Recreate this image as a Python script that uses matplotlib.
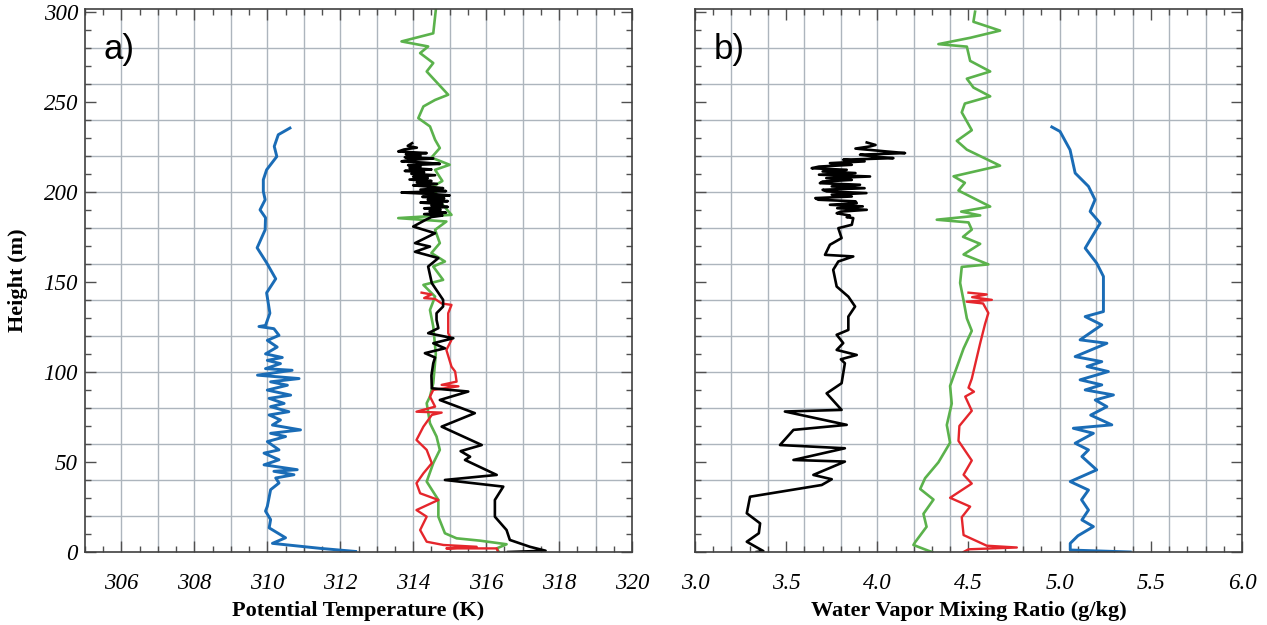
import numpy as np
import matplotlib
matplotlib.use("Agg")
import matplotlib.pyplot as plt
from matplotlib.ticker import MultipleLocator, FixedLocator, FormatStrFormatter

plt.rcParams['font.family'] = ['Liberation Serif', 'DejaVu Serif']
plt.rcParams['font.style'] = 'italic'

# ---------------- Panel a: potential temperature (K) vs height (m) ----------------
theta_blue = [310.62, 310.30, 310.19, 310.26, 309.98, 309.89, 309.89, 309.94, 309.80, 309.95,
              309.94, 309.72, 309.98, 310.23, 309.98, 310.07, 309.95, 309.77, 310.18, 310.32,
              310.00, 310.27, 309.95, 310.41, 310.00, 310.36, 309.95, 310.68, 309.73, 310.87,
              310.09, 310.55, 310.00, 310.64, 310.05, 310.46, 310.09, 310.59, 310.05, 310.36,
              310.14, 310.91, 310.09, 310.50, 310.00, 310.32, 309.91, 310.32, 309.91, 310.82,
              310.18, 310.73, 310.23, 310.32, 310.09, 310.00, 309.95, 310.09, 310.05, 310.50,
              310.14, 311.46, 312.42]
z_theta_blue = [235.4, 231.7, 225.2, 219.6, 212.2, 206.7, 200.2, 195.6, 190.0, 185.6,
                178.9, 168.9, 160.6, 151.7, 143.9, 132.6, 125.8, 125.2, 124.0, 120.3,
                117.5, 113.8, 110.0, 108.0, 106.4, 104.6, 101.8, 100.9, 98.2, 96.3,
                94.5, 92.6, 89.9, 87.1, 85.3, 82.5, 80.7, 77.9, 76.1, 73.3,
                70.5, 67.8, 65.9, 64.1, 61.3, 56.7, 54.9, 51.2, 48.4, 45.7,
                44.8, 42.9, 41.1, 38.3, 34.6, 25.4, 22.7, 18.0, 13.4, 7.9,
                4.8, 2.0, 0.3]

theta_green = [314.62, 314.55, 313.68, 314.41, 314.19, 314.55, 314.37, 314.96, 314.60, 314.28,
               314.14, 314.46, 314.60, 314.73, 314.50, 315.00, 314.60, 314.80, 314.55, 314.69,
               315.05, 313.59, 314.91, 314.60, 314.73, 314.50, 314.87, 314.55, 314.82, 314.28,
               314.60, 314.46, 314.55, 314.62, 314.55, 314.46, 314.37, 314.46, 314.64, 314.73,
               314.55, 314.37, 314.69, 314.69, 314.87, 315.19, 315.83, 316.56, 316.29, 316.35]
z_theta_green = [301.0, 288.0, 283.5, 280.7, 277.0, 271.5, 266.8, 253.9, 251.0, 247.4,
                 240.9, 236.3, 228.9, 224.3, 219.0, 215.0, 212.2, 206.0, 203.0, 195.6,
                 187.2, 185.4, 183.5, 178.9, 171.5, 166.0, 161.3, 158.5, 151.1, 148.3,
                 141.8, 134.4, 125.2, 110.0, 93.7, 86.3, 82.6, 71.5, 64.1, 56.7,
                 49.3, 39.1, 28.9, 19.6, 10.4, 7.6, 6.3, 4.3, 2.0, 0.0]

theta_red = [314.23, 314.50, 314.30, 314.60, 314.78, 315.05, 314.96, 314.96, 315.05, 314.91,
             315.05, 315.15, 315.19, 314.78, 315.24, 314.55, 314.46, 314.60, 314.09, 314.78,
             314.51, 314.28, 314.09, 314.37, 314.51, 314.28, 314.09, 314.19, 314.69, 314.09,
             314.37, 314.19, 314.37, 314.83, 315.74, 314.91, 316.29, 316.33]
z_theta_red = [144.0, 143.0, 141.0, 140.5, 138.0, 137.2, 132.6, 121.5, 117.8, 112.2,
               102.9, 100.2, 94.6, 92.8, 92.0, 90.0, 86.3, 80.7, 77.9, 77.4,
               76.1, 69.6, 62.2, 56.7, 49.3, 43.7, 38.2, 32.6, 28.9, 23.3,
               19.6, 12.2, 5.7, 3.9, 2.9, 2.0, 2.0, 0.0]

theta_black = [313.97, 313.85, 314.10, 313.75, 313.59, 314.37, 313.80, 314.20, 313.77, 314.55,
               313.90, 313.68, 314.30, 314.73, 313.86, 314.20, 313.90, 314.50, 313.77, 314.30,
               313.95, 314.60, 314.00, 314.40, 313.90, 314.50, 314.10, 314.65, 314.00, 314.45,
               314.82, 314.20, 314.90, 313.68, 314.50, 315.00, 314.25, 314.85, 314.40, 314.95,
               314.20, 314.80, 314.50, 314.95, 314.30, 314.75, 314.45, 314.90, 314.30, 314.80,
               314.50, 314.30, 314.00, 314.60, 314.05, 314.46, 314.05, 314.69, 314.41, 314.51,
               314.82, 314.82, 314.64, 314.64, 314.69, 314.41, 315.10, 314.55, 314.87, 314.32,
               314.60, 314.55, 314.50, 314.51, 315.51, 314.73, 315.69, 314.78, 315.88, 315.30,
               315.56, 315.42, 316.29, 314.87, 316.47, 316.24, 316.24, 316.56, 316.65, 317.20,
               317.63, 316.60]
z_theta_black = [227.0, 225.5, 224.5, 223.5, 222.4, 221.5, 220.8, 220.0, 219.2, 218.5,
                 217.7, 216.9, 216.2, 215.5, 214.8, 214.0, 213.2, 212.4, 211.6, 210.8,
                 210.0, 209.2, 208.4, 207.6, 206.8, 206.0, 205.2, 204.4, 203.6, 202.8,
                 202.0, 201.2, 200.4, 199.6, 198.8, 198.0, 197.2, 196.4, 195.6, 194.8,
                 194.0, 193.2, 192.4, 191.6, 190.8, 190.0, 189.2, 188.4, 187.6, 186.8,
                 186.0, 184.0, 180.7, 177.0, 171.5, 169.6, 166.7, 163.2, 158.5, 149.3,
                 140.0, 136.3, 132.6, 128.9, 124.3, 121.5, 118.7, 115.9, 113.1, 110.4,
                 108.0, 104.8, 98.0, 90.9, 89.1, 84.4, 77.1, 69.6, 59.4, 56.0,
                 52.9, 51.1, 42.8, 40.0, 36.3, 28.9, 19.6, 12.2, 6.7, 2.9,
                 0.7, 0.0]

# ---------------- Panel b: water vapor mixing ratio (g/kg) vs height (m) ----------------
q_black = [3.942, 3.990, 3.960, 3.880, 4.050, 4.152, 3.905, 3.980, 4.088, 3.813,
           3.930, 3.740, 3.860, 3.680, 3.640, 3.832, 3.700, 3.880, 3.680, 3.960,
           3.720, 3.860, 3.700, 3.685, 3.905, 3.750, 3.930, 3.700, 3.722, 3.940,
           3.750, 3.860, 3.660, 3.676, 3.880, 3.887, 3.740, 3.920, 3.780, 3.942,
           3.800, 3.777, 3.850, 3.832, 3.868, 3.860, 3.786, 3.804, 3.740, 3.713,
           3.868, 3.786, 3.758, 3.777, 3.841, 3.878, 3.841, 3.841, 3.777, 3.813,
           3.777, 3.887, 3.800, 3.822, 3.804, 3.722, 3.804, 3.493, 3.832, 3.540,
           3.466, 3.822, 3.540, 3.822, 3.649, 3.750, 3.695, 3.302, 3.284, 3.357,
           3.350, 3.284, 3.375, 3.338]
z_q_black = [227.4, 226.0, 225.2, 224.0, 222.4, 221.5, 220.6, 219.6, 218.7, 217.8,
             216.9, 215.9, 215.0, 214.0, 213.1, 212.2, 211.3, 210.4, 209.5, 208.5,
             207.6, 206.6, 205.7, 204.8, 203.9, 203.0, 202.0, 201.1, 200.2, 199.3,
             198.4, 197.4, 196.5, 195.6, 194.7, 193.7, 192.8, 191.9, 190.9, 190.0,
             189.0, 188.1, 186.8, 185.9, 185.4, 181.7, 179.8, 174.3, 170.6, 165.0,
             164.1, 161.3, 156.7, 147.4, 141.8, 136.3, 130.7, 123.3, 120.6, 116.0,
             112.2, 109.4, 107.0, 104.8, 93.7, 88.1, 78.9, 78.0, 70.6, 67.8,
             59.4, 57.6, 51.1, 50.2, 42.8, 40.4, 37.2, 30.7, 21.5, 15.9,
             10.4, 5.7, 0.5, 0.0]

q_green = [4.536, 4.527, 4.673, 4.509, 4.335, 4.491, 4.509, 4.619, 4.491, 4.527,
           4.619, 4.480, 4.463, 4.518, 4.436, 4.491, 4.673, 4.418, 4.480, 4.445,
           4.619, 4.460, 4.564, 4.326, 4.500, 4.518, 4.470, 4.564, 4.473, 4.609,
           4.463, 4.454, 4.473, 4.491, 4.518, 4.473, 4.427, 4.399, 4.408, 4.381,
           4.399, 4.335, 4.262, 4.235, 4.308, 4.253, 4.270, 4.207, 4.198, 4.280,
           4.300]
z_q_green = [300.0, 294.4, 289.5, 285.5, 282.0, 280.6, 272.7, 266.8, 262.8, 257.9,
             253.0, 249.0, 244.1, 234.2, 228.3, 223.4, 214.5, 208.6, 205.0, 200.7,
             191.8, 189.0, 186.9, 184.5, 183.0, 179.0, 175.0, 171.1, 165.2, 159.7,
             158.3, 149.4, 139.6, 129.7, 122.8, 113.0, 100.1, 92.2, 82.4, 70.5,
             60.7, 49.8, 41.0, 35.0, 29.1, 21.2, 14.0, 5.4, 3.9, 0.7,
             0.0]

q_red = [4.500, 4.600, 4.520, 4.628, 4.490, 4.580, 4.609, 4.591, 4.564, 4.518,
         4.500, 4.530, 4.482, 4.518, 4.450, 4.445, 4.518, 4.473, 4.518, 4.399,
         4.509, 4.463, 4.473, 4.600, 4.765, 4.500, 4.473]
z_q_red = [144.0, 143.0, 141.5, 140.0, 139.0, 138.0, 132.7, 126.7, 115.9, 96.2,
           91.2, 89.0, 86.3, 78.4, 70.0, 61.7, 50.8, 42.9, 38.0, 30.1,
           25.2, 19.3, 9.4, 3.5, 2.5, 1.5, 0.0]

q_blue = [4.957, 5.002, 5.057, 5.085, 5.158, 5.194, 5.167, 5.222, 5.140, 5.203,
          5.240, 5.240, 5.240, 5.140, 5.231, 5.112, 5.259, 5.085, 5.231, 5.150,
          5.267, 5.112, 5.231, 5.140, 5.295, 5.195, 5.259, 5.170, 5.286, 5.075,
          5.185, 5.085, 5.158, 5.122, 5.203, 5.058, 5.158, 5.120, 5.158, 5.122,
          5.185, 5.100, 5.058, 5.058, 5.387]
z_q_blue = [236.0, 233.5, 223.3, 210.4, 203.0, 195.6, 189.1, 182.6, 168.7, 160.4,
            153.0, 140.0, 133.5, 130.7, 126.1, 117.8, 115.9, 108.5, 105.7, 103.0,
            100.2, 95.6, 92.8, 90.0, 87.2, 84.4, 80.7, 76.0, 70.6, 68.7,
            65.9, 60.4, 56.7, 53.0, 45.6, 39.1, 34.4, 29.0, 23.3, 17.8,
            14.1, 9.0, 4.8, 1.1, 0.0]

theta_ticks = [306, 308, 310, 312, 314, 316, 318, 320]
q_ticks = [3.0, 3.5, 4.0, 4.5, 5.0, 5.5, 6.0]
height_ticks = [0, 50, 100, 150, 200, 250, 300]

BLUE = '#1a6cb6'
GREEN = '#5bb24c'
RED = '#e5262c'
BLACK = '#000000'
GRID = '#adb5bd'

fig = plt.figure(figsize=(12.67, 6.25), dpi=100)
ax_a = fig.add_axes([85 / 1267, 73 / 625, 547 / 1267, 543 / 625])
ax_b = fig.add_axes([695 / 1267, 73 / 625, 547 / 1267, 543 / 625])


def style_axes(ax, xlim, xgrid, xminor):
    ax.set_xlim(*xlim)
    ax.set_ylim(0, 301.5)
    for gx in np.arange(xlim[0] + xgrid, xlim[1] - 1e-6, xgrid):
        ax.axvline(gx, color=GRID, lw=1.0, zorder=0)
    for gy in range(20, 300, 20):
        ax.axhline(gy, color=GRID, lw=1.0, zorder=0)
    ax.yaxis.set_major_locator(FixedLocator(height_ticks))
    ax.yaxis.set_minor_locator(MultipleLocator(10))
    ax.xaxis.set_minor_locator(MultipleLocator(xminor))
    ax.tick_params(which='both', direction='in', top=True, right=True,
                   color='#505050', width=1.0)
    ax.tick_params(which='major', length=8)
    ax.tick_params(which='minor', length=4)
    ax.tick_params(axis='x', which='major', pad=15, labelsize=16.5)
    ax.tick_params(axis='y', which='major', pad=5, labelsize=16.5)
    for s in ax.spines.values():
        s.set_color('#404040')
        s.set_linewidth(1.2)


# Panel a
style_axes(ax_a, (305, 320), 1.0, 0.5)
ax_a.xaxis.set_major_locator(FixedLocator(theta_ticks))
ax_a.plot(theta_blue, z_theta_blue, color=BLUE, lw=2.1)
ax_a.plot(theta_green, z_theta_green, color=GREEN, lw=1.9)
ax_a.plot(theta_red, z_theta_red, color=RED, lw=1.7)
ax_a.plot(theta_black, z_theta_black, color=BLACK, lw=1.9)
ax_a.set_xlabel('Potential Temperature (K)', fontsize=16, fontweight='bold',
                fontstyle='normal')
ax_a.xaxis.set_label_coords(0.5, -0.09)
ax_a.set_ylabel('Height (m)', fontsize=16, fontweight='bold', fontstyle='normal')
ax_a.yaxis.set_label_coords(-0.105, 0.5)
ax_a.text(0.034, 0.955, 'a)', transform=ax_a.transAxes, fontsize=25,
          family='Liberation Sans', fontstyle='normal', va='top', ha='left')

# Panel b
style_axes(ax_b, (3.0, 6.0), 0.2, 0.1)
ax_b.xaxis.set_major_locator(FixedLocator(q_ticks))
ax_b.xaxis.set_major_formatter(FormatStrFormatter('%.1f'))
ax_b.tick_params(axis='y', labelleft=False)
ax_b.plot(q_blue, z_q_blue, color=BLUE, lw=2.1)
ax_b.plot(q_green, z_q_green, color=GREEN, lw=1.9)
ax_b.plot(q_red, z_q_red, color=RED, lw=1.7)
ax_b.plot(q_black, z_q_black, color=BLACK, lw=1.9)
ax_b.set_xlabel('Water Vapor Mixing Ratio (g/kg)', fontsize=16, fontweight='bold',
                fontstyle='normal')
ax_b.xaxis.set_label_coords(0.5, -0.09)
ax_b.text(0.034, 0.955, 'b)', transform=ax_b.transAxes, fontsize=25,
          family='Liberation Sans', fontstyle='normal', va='top', ha='left')

fig.savefig('out.png', dpi=100)
